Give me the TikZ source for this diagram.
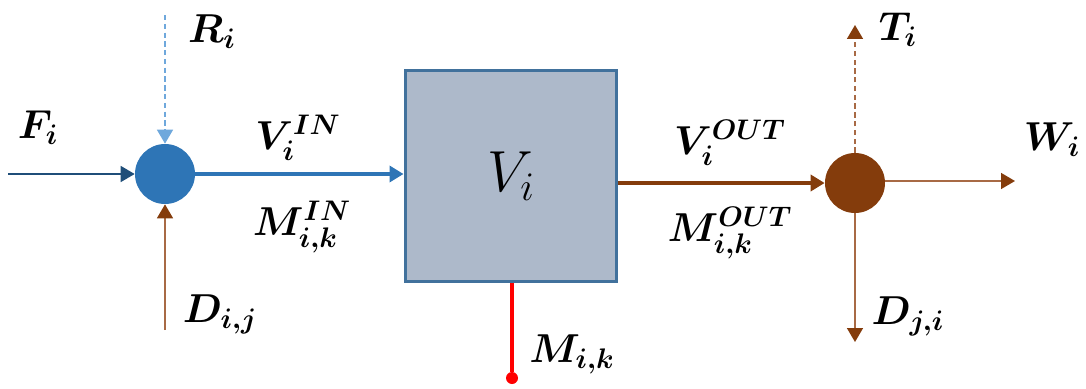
\documentclass[tikz,border=0pt]{standalone}
\usepackage{fix-cm}
\usepackage{amsmath,amssymb}
\usepackage{bm}
\usetikzlibrary{arrows.meta,positioning}
\usepackage{xcolor}

\definecolor{mixblue}{HTML}{2E75B6}
\definecolor{feedblue}{HTML}{1F4E79}
\definecolor{rainblue}{HTML}{6FA8DC}
\definecolor{mixbrown}{HTML}{843C0C}
\definecolor{linebrown}{HTML}{A86A45}
\definecolor{tankfill}{HTML}{ADB9CA}
\definecolor{tankedge}{HTML}{41719C}

\begin{document}
\begin{tikzpicture}[x=0.02cm, y=-0.02cm,
    >={Triangle[length=0.28cm, width=0.32cm]},
    browntip/.style={-{Triangle[length=0.28cm, width=0.32cm, color=mixbrown]}},
    lbl/.style={font=\fontsize{23}{27}\selectfont},
    junc/.style={circle, inner sep=0pt, minimum size=1.2cm}]
  \useasboundingbox (0,0) rectangle (1086,389);

  % ---- tank and the two mixing points ----
  \node[draw=tankedge, fill=tankfill, line width=1.7pt, minimum size=4.24cm,
        font=\fontsize{33}{38}\selectfont] (tank) at (511,176) {$V_i$};
  \node[junc, fill=mixblue] (mixin) at (165,174) {};
  \node[junc, fill=mixbrown] (mixout) at (855,183) {};

  % free ends of the side streams
  \coordinate (fsrc) at (8,174);
  \coordinate (rsrc) at (165,15);
  \coordinate (dsrc) at (165,330);
  \coordinate (tout) at (855,25);
  \coordinate (wout) at (1015,181);
  \coordinate (dout) at (855,342);
  \node[circle, fill=red, inner sep=0pt, minimum size=0.24cm] (mdot) at (512,378) {};

  % ---- inlet side ----
  \draw[->, feedblue, line width=0.9pt] (fsrc) -- (mixin);
  \draw[->, rainblue, line width=0.9pt, dash pattern=on 3pt off 2pt] (rsrc) -- (mixin);
  \draw[browntip, linebrown, line width=0.9pt] (dsrc) -- (mixin);
  \draw[->, mixblue, line width=2.3pt] (mixin) -- (mixin -| tank.west);

  \node[lbl] (fl) at (38,128) {$\bm{F_i}$};
  \node[lbl] (rl) at (212,32) {$\bm{R_i}$};
  \node[lbl] (dl) at (220,314) {$\bm{D_{i,j}}$};
  \node[lbl] (vinl) at (298,138) {$\bm{V_i^{IN}}$};
  \node[lbl] (minl) at (302,227) {$\bm{M_{i,k}^{IN}}$};

  % ---- withdrawal from the tank ----
  \draw[red, line width=2.3pt] (mdot |- tank.south) -- (mdot);
  \node[lbl] (ml) at (572,354) {$\bm{M_{i,k}}$};

  % ---- outlet side ----
  \draw[->, mixbrown, line width=2.3pt] (tank.east |- mixout) -- (mixout);
  \draw[browntip, linebrown, line width=0.9pt, dash pattern=on 3pt off 2pt] (mixout) -- (tout);
  \draw[browntip, linebrown, line width=0.9pt] (mixout.east |- wout) -- (wout);
  \draw[browntip, linebrown, line width=0.9pt] (mixout) -- (dout);

  \node[lbl] (voutl) at (730,143) {$\bm{V_i^{OUT}}$};
  \node[lbl] (moutl) at (730,233) {$\bm{M_{i,k}^{OUT}}$};
  \node[lbl] (tl) at (898,30) {$\bm{T_i}$};
  \node[lbl] (wl) at (1052,140) {$\bm{W_i}$};
  \node[lbl] (djl) at (908,316) {$\bm{D_{j,i}}$};
\end{tikzpicture}
\end{document}
